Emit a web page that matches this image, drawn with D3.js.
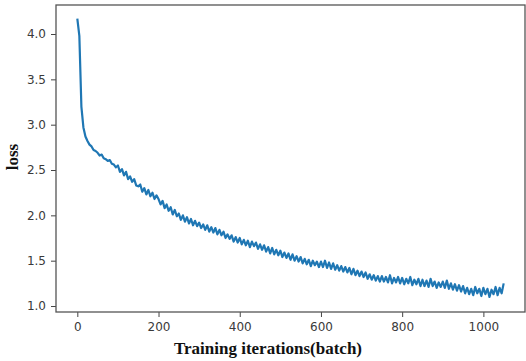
<!DOCTYPE html>
<html>
<head>
<meta charset="utf-8">
<script src="https://cdn.jsdelivr.net/npm/d3@7"></script>
<style>
  body { margin: 0; background: #fff; }
  .tick text { font-family: 'DejaVu Sans', sans-serif; font-size: 12px; fill: #3a3a3a; }
  .tick line { stroke: #444; }
  .axis-label { font-family: 'Liberation Serif', 'Times New Roman', serif; font-weight: bold; font-size: 17px; fill: #111; }
</style>
</head>
<body>
<svg id="chart"></svg>
<script>
// loss recorded every 5 batches, from batch 0 to 1050
const step = 5
const loss = [
  4.17, 3.98, 3.20, 2.97, 2.87, 2.82, 2.78, 2.76, 2.72, 2.71,
  2.69, 2.66, 2.67, 2.63, 2.62, 2.60, 2.61, 2.57, 2.56, 2.53,
  2.55, 2.48, 2.51, 2.44, 2.48, 2.40, 2.43, 2.37, 2.40, 2.33,
  2.32, 2.34, 2.26, 2.30, 2.23, 2.28, 2.21, 2.25, 2.18, 2.22,
  2.18, 2.12, 2.16, 2.08, 2.12, 2.05, 2.09, 2.01, 2.06, 1.99,
  2.02, 1.95, 2.00, 1.93, 1.98, 1.91, 1.96, 1.89, 1.94, 1.88,
  1.92, 1.86, 1.90, 1.84, 1.89, 1.82, 1.87, 1.81, 1.86, 1.79,
  1.84, 1.78, 1.82, 1.75, 1.79, 1.74, 1.78, 1.71, 1.76, 1.70,
  1.75, 1.68, 1.73, 1.67, 1.72, 1.65, 1.71, 1.66, 1.70, 1.63,
  1.68, 1.62, 1.67, 1.60, 1.65, 1.58, 1.64, 1.57, 1.62, 1.56,
  1.61, 1.54, 1.59, 1.53, 1.58, 1.51, 1.57, 1.50, 1.55, 1.49,
  1.54, 1.47, 1.52, 1.46, 1.51, 1.44, 1.50, 1.45, 1.49, 1.43,
  1.49, 1.43, 1.50, 1.42, 1.48, 1.41, 1.47, 1.40, 1.45, 1.39,
  1.44, 1.38, 1.43, 1.37, 1.42, 1.35, 1.41, 1.34, 1.39, 1.33,
  1.38, 1.32, 1.37, 1.30, 1.35, 1.29, 1.34, 1.28, 1.33, 1.27,
  1.33, 1.27, 1.32, 1.26, 1.34, 1.25, 1.31, 1.26, 1.32, 1.25,
  1.31, 1.24, 1.30, 1.25, 1.32, 1.23, 1.29, 1.24, 1.30, 1.22,
  1.29, 1.22, 1.28, 1.21, 1.30, 1.22, 1.27, 1.20, 1.26, 1.21,
  1.27, 1.20, 1.28, 1.19, 1.25, 1.18, 1.24, 1.17, 1.23, 1.16,
  1.22, 1.14, 1.20, 1.13, 1.19, 1.12, 1.21, 1.14, 1.19, 1.11,
  1.20, 1.13, 1.19, 1.10, 1.18, 1.13, 1.21, 1.12, 1.20, 1.14,
  1.25,
]
const xTicks = [0, 200, 400, 600, 800, 1000]
const yTicks = [1.0, 1.5, 2.0, 2.5, 3.0, 3.5, 4.0]
const xTitle = 'Training iterations(batch)'
const yTitle = 'loss'

const width = 526
const height = 361
const margin = { top: 5, right: 1, bottom: 49, left: 56 }
const _w = width - margin.left - margin.right
const _h = height - margin.top - margin.bottom

const svg = d3.select('#chart').attr('width', width).attr('height', height)

const x = d3.scaleLinear().domain([-52.5, 1102.5]).range([0, _w])
const y = d3.scaleLinear().domain([0.934, 4.32]).range([_h, 0])

const g = svg.append('g').attr('transform', `translate(${margin.left},${margin.top})`)

const line = d3.line()
  .x((d, i) => x(i * step))
  .y((d) => y(d))

g.append('path')
  .datum(loss)
  .attr('fill', 'none')
  .attr('stroke', '#1f77b4')
  .attr('stroke-width', 2.2)
  .attr('stroke-linejoin', 'round')
  .attr('d', line)

const xAxis = g.append('g')
  .attr('transform', `translate(0,${_h})`)
  .call(d3.axisBottom(x).tickValues(xTicks).tickFormat(d3.format('d')).tickSize(5).tickPadding(5).tickSizeOuter(0))
xAxis.select('.domain').remove()

const yAxis = g.append('g')
  .call(d3.axisLeft(y).tickValues(yTicks).tickFormat(d3.format('.1f')).tickSize(5).tickPadding(5).tickSizeOuter(0))
yAxis.select('.domain').remove()

g.append('rect')
  .attr('width', _w)
  .attr('height', _h)
  .attr('fill', 'none')
  .attr('stroke', '#555')
  .attr('stroke-width', 1.3)

svg.append('text')
  .attr('class', 'axis-label')
  .attr('x', 268)
  .attr('y', 354)
  .attr('text-anchor', 'middle')
  .text(xTitle)

svg.append('text')
  .attr('class', 'axis-label')
  .attr('transform', 'translate(18,157) rotate(-90)')
  .attr('text-anchor', 'middle')
  .text(yTitle)
</script>
</body>
</html>
